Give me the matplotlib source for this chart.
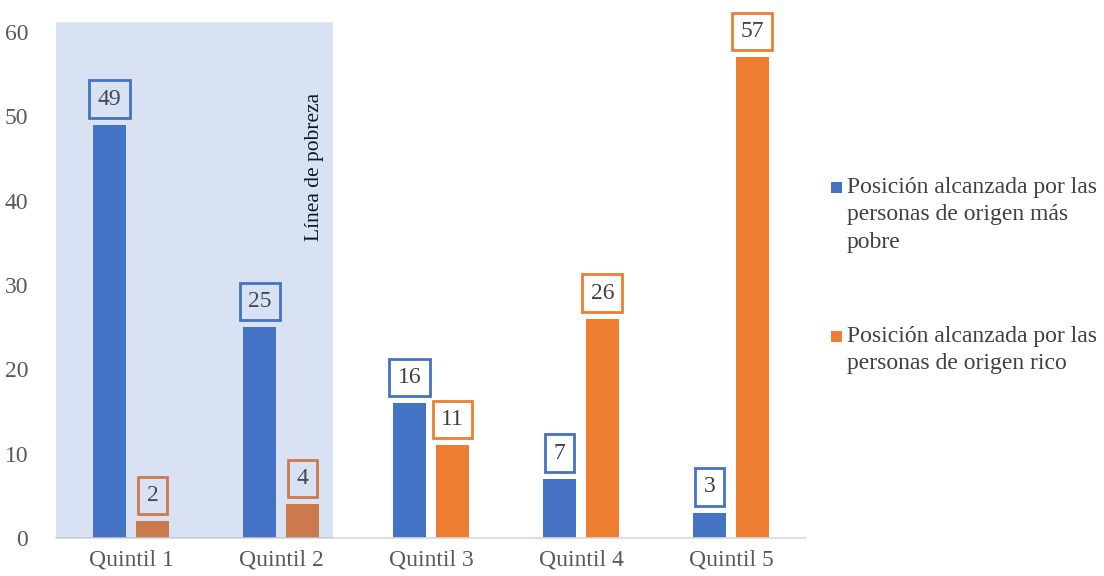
import numpy as np
import matplotlib.pyplot as plt
from matplotlib.patches import Rectangle

plt.rcParams['font.family'] = ['Liberation Serif', 'DejaVu Serif']

quintiles = ['Quintil 1', 'Quintil 2', 'Quintil 3', 'Quintil 4', 'Quintil 5']
pobre = [49, 25, 16, 7, 3]
rico = [2, 4, 11, 26, 57]
leyenda = ['Posición alcanzada por las\npersonas de origen más\npobre',
           'Posición alcanzada por las\npersonas de origen rico']

azul = '#4472C4'
naranja = '#ED7D31'
gris = '#404040'

fig = plt.figure(figsize=(11.04, 5.76), dpi=100)
ax = fig.add_axes([56 / 1104, 1 - 538 / 576, 750 / 1104, 516 / 576])

x = np.arange(len(quintiles))
ancho = 0.22
off = 0.143
b1 = ax.bar(x - off, pobre, ancho, color=azul)
b2 = ax.bar(x + off, rico, ancho, color=naranja)

# etiquetas con recuadro
for barras, vals, col in [(b1, pobre, azul), (b2, rico, naranja)]:
    for b, v in zip(barras, vals):
        ax.annotate(str(v), (b.get_x() + b.get_width() / 2, v),
                    xytext=(0, 11), textcoords='offset points',
                    ha='center', va='bottom', fontsize=17, color=gris,
                    bbox=dict(boxstyle='square,pad=0.35', fc='none',
                              ec=col, lw=2))

ax.set_xlim(-0.5, 4.5)
ax.set_ylim(0, 61.2)
ax.set_yticks(range(0, 61, 10))
ax.set_xticks(x)
ax.set_xticklabels(quintiles)
ax.tick_params(axis='both', length=0, labelsize=17, colors='#595959')
ax.tick_params(axis='y', pad=20)
ax.tick_params(axis='x', pad=8)
for s in ['top', 'right', 'left']:
    ax.spines[s].set_visible(False)
ax.spines['bottom'].set_color('#D9D9D9')
ax.spines['bottom'].set_linewidth(1.2)

# zona bajo la línea de pobreza
ax.add_patch(Rectangle((-0.5, 0), 1.84, 61.2, facecolor=azul, alpha=0.2,
                       edgecolor='#B4C7E7', lw=1, zorder=5))
ax.text(1.22, 44, 'Línea de pobreza', rotation=90, ha='center', va='center',
        fontsize=15.5, color='black')

# leyenda
ys = [187, 336]
for y, col, txt in zip(ys, [azul, naranja], leyenda):
    fig.patches.append(Rectangle((831 / 1104, 1 - (y + 6) / 576), 11 / 1104, 11 / 576,
                                 transform=fig.transFigure, facecolor=col))
    fig.text(847 / 1104, 1 - (y - 10) / 576, txt, ha='left', va='top',
             fontsize=17, color=gris, linespacing=1.4)

fig.savefig('out.png', dpi=100)
